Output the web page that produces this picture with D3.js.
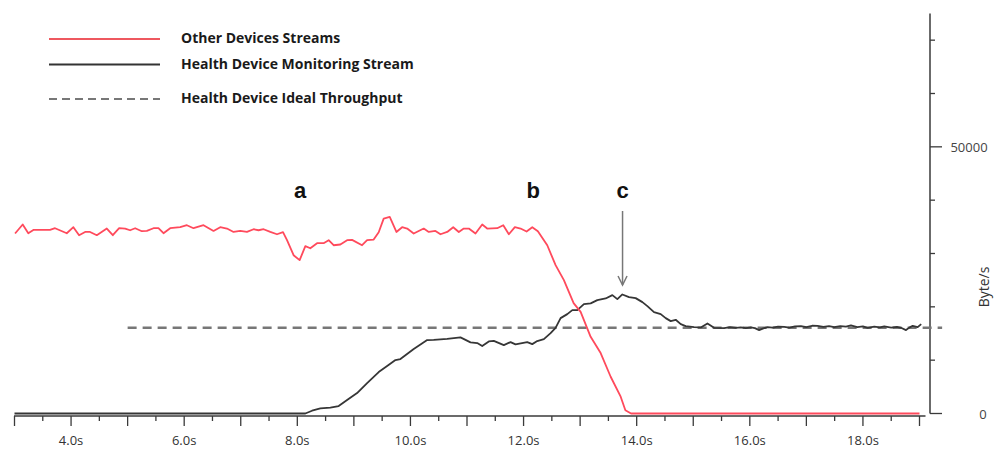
<!DOCTYPE html>
<html><head><meta charset="utf-8">
<script src="https://cdn.jsdelivr.net/npm/d3@7"></script>
<style>
body{margin:0;background:#fff;}
svg{display:block;}
</style></head>
<body>
<svg id="chart" width="1000" height="452"></svg>
<script>
// ---- data (time in s, throughput in Byte/s) ----
const redT = [3.01,3.145,3.244,3.333,3.628,3.717,3.924,4.041,4.142,4.248,4.336,4.455,4.632,4.738,4.85,4.956,5.044,5.133,5.251,5.34,5.457,5.545,5.634,5.752,5.929,6.048,6.165,6.342,6.519,6.637,6.756,6.873,6.991,7.11,7.227,7.315,7.404,7.522,7.641,7.747,7.818,7.934,8.041,8.142,8.23,8.349,8.465,8.554,8.642,8.761,8.88,8.968,9.145,9.234,9.35,9.439,9.527,9.634,9.752,9.853,9.942,10.058,10.235,10.324,10.442,10.531,10.65,10.756,10.855,10.943,11.032,11.15,11.269,11.357,11.534,11.641,11.74,11.846,11.947,12.053,12.154,12.253,12.419,12.566,12.713,12.885,13.009,13.186,13.363,13.54,13.717,13.8,13.9,19.0];
const redV = [33750,35430,33800,34420,34420,34740,33800,34930,33430,34040,34040,33430,34680,33430,34740,34680,34360,34740,34180,34230,34740,34740,33800,34740,34930,35300,34740,35300,34230,34930,34680,34040,34230,34040,34550,34360,34550,34040,33610,33990,32490,29680,28750,31370,30990,31930,31930,32490,31550,31690,32490,32550,31550,32490,32620,33990,36550,36850,34040,34930,34680,33750,34680,34040,34230,33610,34040,34930,34040,34680,34680,33750,35430,34680,34740,35300,33610,34930,34680,34120,34930,34180,31550,27810,25000,20690,19060,14380,11330,6890,3150,600,0,0];

const blackT = [3.0,8.142,8.26,8.407,8.584,8.731,8.88,9.057,9.234,9.439,9.588,9.735,9.823,10.058,10.296,10.412,10.65,10.885,11.062,11.181,11.269,11.386,11.474,11.651,11.77,11.858,12.065,12.154,12.242,12.359,12.478,12.566,12.655,12.773,12.862,12.95,13.067,13.186,13.304,13.451,13.57,13.658,13.747,13.864,13.982,14.101,14.189,14.306,14.425,14.513,14.602,14.69,14.779,14.867,15.014,15.133,15.251,15.368,15.545,15.65,15.75,15.841,15.93,16.018,16.09,16.165,16.24,16.313,16.4,16.5,16.607,16.7,16.8,16.903,17.0,17.1,17.198,17.3,17.4,17.492,17.6,17.7,17.788,17.9,18.0,18.083,18.2,18.3,18.377,18.5,18.6,18.673,18.761,18.82,18.88,18.968,19.03];
const blackV = [0,0,520,970,1090,1400,2530,3840,5710,7770,8900,10020,10210,12080,13760,13820,14010,14270,13330,13200,12640,13520,13630,12830,13390,12960,13390,13010,13580,13950,15070,16070,17880,18630,19380,19380,20510,20640,21250,21570,22190,21440,22320,21820,21630,20880,20130,19010,18630,17880,17320,17570,16760,16390,16200,16140,16890,16070,16010,16200,16050,16140,16000,16140,16000,15640,15950,16200,16100,16300,16250,16100,16350,16390,16200,16450,16440,16250,16400,16200,16400,16300,16520,16200,16350,16070,16300,16150,16330,16100,16250,16070,15640,16100,16440,16200,16760];

const idealT = [5.0, 19.4];
const idealV = [16100, 16100];

const xTickLabels = ["4.0s","6.0s","8.0s","10.0s","12.0s","14.0s","16.0s","18.0s"];
const xLabelValues = [4,6,8,10,12,14,16,18];
const yTickValues = [0,10000,20000,30000,40000,50000,60000,70000];
const yLabelValues = [0,50000];
const legendLabels = ["Other Devices Streams","Health Device Monitoring Stream","Health Device Ideal Throughput"];
const annotations = [{t:8.05,label:"a"},{t:12.17,label:"b"},{t:13.75,label:"c"}];

// ---- drawing ----
const svg = d3.select("#chart");
const x = d3.scaleLinear().domain([3,19]).range([14.5,919.5]);
const y = d3.scaleLinear().domain([0,75000]).range([413.5,13.5]);

const axisCol = "#3a3a3a";

// X axis
const xAxisY = 416;
const gx = svg.append("g");
gx.append("line").attr("x1",x(3)-0.5).attr("x2",x(19)+6).attr("y1",xAxisY).attr("y2",xAxisY)
  .attr("stroke",axisCol).attr("stroke-width",1.5);
const xt = d3.range(3,19.01,0.5);
gx.selectAll("line.tk").data(xt).join("line").attr("class","tk")
  .attr("x1",d=>x(d)).attr("x2",d=>x(d)).attr("y1",xAxisY)
  .attr("y2",d=> Number.isInteger(d) ? xAxisY+10 : xAxisY+5)
  .attr("stroke",axisCol).attr("stroke-width",1.3);
gx.selectAll("text").data(xLabelValues).join("text")
  .attr("x",d=>x(d)).attr("y",445).attr("text-anchor","middle")
  .attr("font-family","'Open Sans', sans-serif").attr("font-size",13).attr("fill","#333")
  .text((d,i)=>xTickLabels[i]);

// Y axis (right)
const yAxisX = 930;
const gy = svg.append("g");
gy.append("line").attr("x1",yAxisX).attr("x2",yAxisX).attr("y1",y(75000)).attr("y2",y(0))
  .attr("stroke",axisCol).attr("stroke-width",1.5);
gy.selectAll("line.tk").data(yTickValues).join("line").attr("class","tk")
  .attr("x1",yAxisX).attr("x2",d=> yLabelValues.includes(d) ? yAxisX+12 : yAxisX+5)
  .attr("y1",d=>y(d)).attr("y2",d=>y(d))
  .attr("stroke",axisCol).attr("stroke-width",1.3);
gy.selectAll("text").data(yLabelValues).join("text")
  .attr("x",d=> d===0 ? 983 : 969).attr("y",d=>y(d)+5).attr("text-anchor","middle")
  .attr("font-family","'Open Sans', sans-serif").attr("font-size",13).attr("fill","#444")
  .text(d=>String(d));
svg.append("text").attr("transform","translate(989,287) rotate(-90)")
  .attr("text-anchor","middle").attr("font-family","'Open Sans', sans-serif")
  .attr("font-size",14).attr("fill","#333").text("Byte/s");

// lines
const line = d3.line().x(d=>x(d[0])).y(d=>y(d[1]));
const idealData = idealT.map((t,i)=>[t,idealV[i]]);
const blackData = blackT.map((t,i)=>[t,blackV[i]]);
const redData = redT.map((t,i)=>[t,redV[i]]);

svg.append("path").attr("d",line(idealData)).attr("fill","none")
  .attr("stroke","#777").attr("stroke-width",2.5).attr("stroke-dasharray","9,6");
svg.append("path").attr("d",line(blackData)).attr("fill","none")
  .attr("stroke","#363636").attr("stroke-width",1.8).attr("stroke-linejoin","round");
svg.append("path").attr("d",line(redData)).attr("fill","none")
  .attr("stroke","#ff4a5c").attr("stroke-width",1.8).attr("stroke-linejoin","round");

// annotations
svg.selectAll("text.ann").data(annotations).join("text").attr("class","ann")
  .attr("x",d=>x(d.t)).attr("y",198).attr("text-anchor","middle")
  .attr("font-family","'Liberation Sans', Arial, sans-serif").attr("font-weight","bold")
  .attr("font-size",22).attr("fill","#111").text(d=>d.label);
// arrow to c
const ax = x(13.75);
svg.append("line").attr("x1",ax).attr("x2",ax).attr("y1",211).attr("y2",285)
  .attr("stroke","#777").attr("stroke-width",1.5);
svg.append("path").attr("d",`M${ax-4.5},${276} L${ax},${285} L${ax+4.5},${276}`)
  .attr("fill","none").attr("stroke","#777").attr("stroke-width",1.5);

// legend
const lg = svg.append("g");
const legendStyles = [
  {stroke:"#e8202a", dash:null, w:1.6},
  {stroke:"#333", dash:null, w:1.8},
  {stroke:"#777", dash:"8,5", w:2.2}
];
const legendY = [39, 64.5, 99];
legendLabels.forEach((lab,i)=>{
  lg.append("line").attr("x1",49).attr("x2",160).attr("y1",legendY[i]).attr("y2",legendY[i])
    .attr("stroke",legendStyles[i].stroke).attr("stroke-width",legendStyles[i].w)
    .attr("stroke-dasharray",legendStyles[i].dash);
  lg.append("text").attr("x",181).attr("y",legendY[i]+4)
    .attr("font-family","'Open Sans', sans-serif").attr("font-weight","bold")
    .attr("font-size",14).attr("fill","#1a1a1a").text(lab);
});
</script>
</body></html>
